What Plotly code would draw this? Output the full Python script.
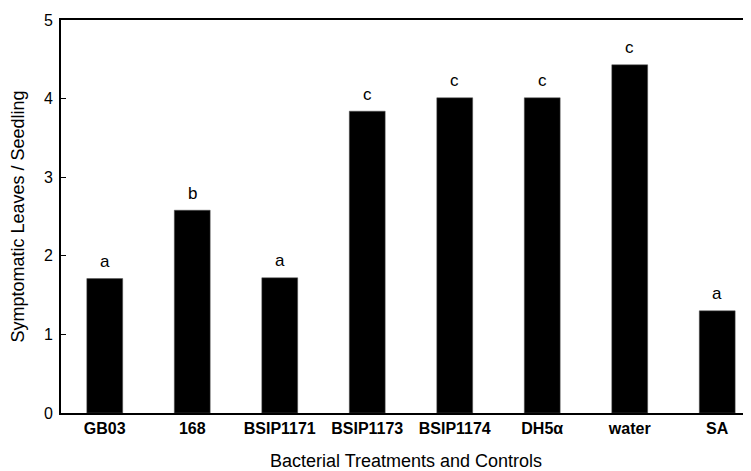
import plotly.graph_objects as go

categories = ["GB03", "168", "BSIP1171", "BSIP1173", "BSIP1174", "DH5α", "water", "SA"]
values = [1.71, 2.58, 1.72, 3.84, 4.01, 4.01, 4.43, 1.30]
letters = ["a", "b", "a", "c", "c", "c", "c", "a"]
y_ticks = [0, 1, 2, 3, 4, 5]

FONT = "Liberation Sans, Arial, sans-serif"

fig = go.Figure()
fig.add_trace(go.Bar(
    x=list(range(len(categories))), y=values,
    marker=dict(color="black", line=dict(color="#555", width=0.5)),
    width=0.41,
))

for i, (v, t) in enumerate(zip(values, letters)):
    fig.add_annotation(x=i, y=v, text=t, showarrow=False, yshift=17,
                       yanchor="middle", font=dict(family=FONT, size=17, color="black"))

# The page body has an 8px default margin, so the figure is sized to fit the window.
fig.update_layout(
    width=743, height=463,
    margin=dict(l=53, r=0, t=12, b=58),
    plot_bgcolor="white", paper_bgcolor="white",
    showlegend=False,
    font=dict(family=FONT, color="black"),
    xaxis=dict(
        range=[-0.5, 7.386], automargin=False,
        tickmode="array", tickvals=list(range(len(categories))), ticktext=categories,
        tickfont=dict(family=FONT, size=16, weight="bold"),
        showline=True, linecolor="black", linewidth=2, mirror=True,
        ticks="", showgrid=False, zeroline=False,
        title=dict(text="Bacterial Treatments and Controls", font=dict(family=FONT, size=18), standoff=19),
    ),
    yaxis=dict(
        range=[0, 5], automargin=False,
        tickmode="array", tickvals=y_ticks,
        tickfont=dict(family=FONT, size=16),
        ticklabelstandoff=3,
        showline=True, linecolor="black", linewidth=2,
        ticks="inside", ticklen=5, tickwidth=1, tickcolor="black",
        showgrid=False, zeroline=False,
        title=dict(text="Symptomatic Leaves / Seedling", font=dict(family=FONT, size=18), standoff=15),
    ),
)

fig.write_html("out.html")
